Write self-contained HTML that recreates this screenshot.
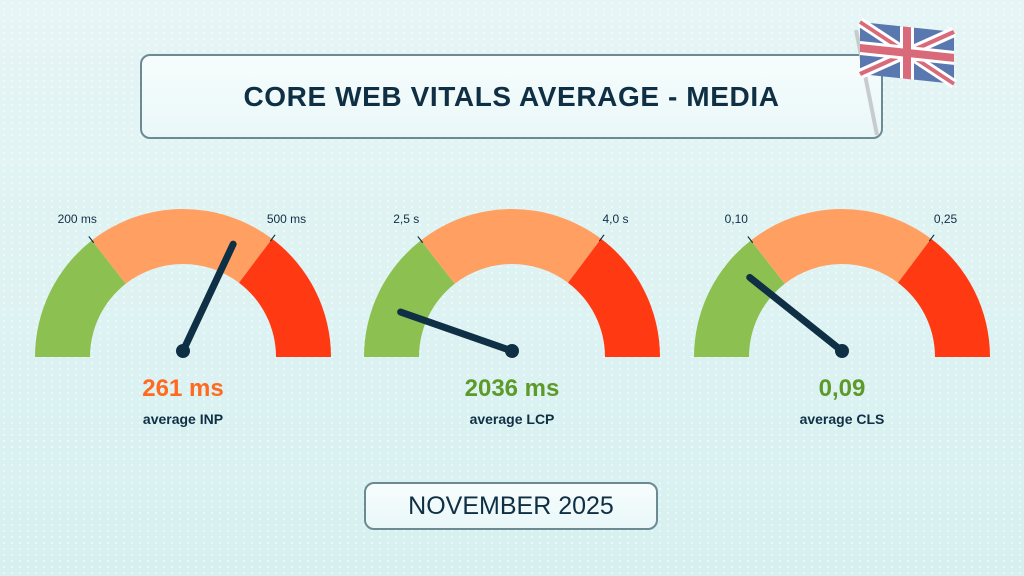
<!DOCTYPE html>
<html><head><meta charset="utf-8"><style>
body{margin:0;width:1024px;height:576px;overflow:hidden;font-family:"Liberation Sans",sans-serif;}
#bg{position:absolute;left:0;top:0;width:1024px;height:576px;background:linear-gradient(180deg,#e6f5f5,#d6f0f0);}
#dots{position:absolute;left:0;top:0;width:1024px;height:576px;background-image:radial-gradient(rgba(255,255,255,0.55) 1px,transparent 1.4px);background-size:8px 6px;}
.box{position:absolute;border:2px solid #6b8a94;border-radius:10px;background:linear-gradient(180deg,#f7fdfd,#e9f7f8);color:#0f2f45;text-align:center;box-sizing:border-box;}
</style></head><body>
<div id="bg"></div>
<div id="dots"></div>
<div class="box" style="left:140px;top:54px;width:743px;height:85px;line-height:81px;font-size:28px;font-weight:bold;letter-spacing:0.6px;">CORE WEB VITALS AVERAGE - MEDIA</div>
<svg style="position:absolute;left:0;top:0" width="1024" height="576" id="chart">
<g>
<line x1="856" y1="30" x2="877" y2="135" stroke="#c8cccc" stroke-width="4"/>
<g transform="translate(860,14) skewY(6)">
<rect x="0" y="8" width="94" height="52" fill="#5a78b0"/>
<path d="M0 8 L94 60 M94 8 L0 60" stroke="#fff" stroke-width="10"/>
<path d="M0 8 L94 60 M94 8 L0 60" stroke="#d86a7a" stroke-width="4"/>
<path d="M47 8 V60 M0 34 H94" stroke="#fff" stroke-width="14"/>
<path d="M47 8 V60 M0 34 H94" stroke="#d86a7a" stroke-width="8"/>
</g></g>
</svg>
<div class="box" style="left:364px;top:482px;width:294px;height:48px;line-height:44px;font-size:25px;">NOVEMBER 2025</div>
<script>
const metrics=["INP","LCP","CLS"];
const values=[261,2036,0.09];
const valueLabels=["261 ms","2036 ms","0,09"];
const thresholdLabels=[["200 ms","500 ms"],["2,5 s","4,0 s"],["0,10","0,25"]];
const scaleMax=[408,19000,0.42];
const valueColors=["#ff6a1f","#5e9a2a","#5e9a2a"];
const centersX=[183,512,842];
const NS="http://www.w3.org/2000/svg";
const svg=document.getElementById('chart');
const cy=357,R=148,r=93;
const segs=[[180,128,"#8cc152"],[128,53,"#ffa062"],[53,0,"#ff3a12"]];
function pt(cx,ang,rad){const a=ang*Math.PI/180;return [cx+rad*Math.cos(a),cy-rad*Math.sin(a)];}
function angleOf(i,v){return 180-180*Math.min(1,Math.max(0,v/scaleMax[i]));}
function mk(tag,attrs){const e=document.createElementNS(NS,tag);for(const k in attrs)e.setAttribute(k,attrs[k]);svg.appendChild(e);return e;}
metrics.forEach((m,i)=>{
 const cx=centersX[i];
 segs.forEach((s,j)=>{
  const a=pt(cx,s[0],R),b=pt(cx,s[1],R),c=pt(cx,s[1],r),d=pt(cx,s[0],r);
  const p=mk('path',{d:`M${a} A${R} ${R} 0 0 1 ${b} L${c} A${r} ${r} 0 0 0 ${d}Z`,fill:s[2]});
  
  
 });
 [128,53].forEach((ang,k)=>{
  const a=pt(cx,ang,R-3),b=pt(cx,ang,R+5);
  const t=mk('line',{x1:a[0],y1:a[1],x2:b[0],y2:b[1],stroke:'#0f2f45','stroke-width':1.2});
  
  
  const lp=pt(cx,ang,R+14);
  const tx=mk('text',{x:lp[0]+(k===0?-6:6),y:223,'text-anchor':'middle','font-size':12,fill:'#0f2f45'});
  tx.textContent=thresholdLabels[i][k];
  
  
 });
 const ang=angleOf(i,values[i]);
 const tip=pt(cx,ang,118);
 const n=mk('line',{x1:cx,y1:cy-6,x2:tip[0],y2:tip[1]-6,stroke:'#0f2f45','stroke-width':7,'stroke-linecap':'round'});
 
 
 const h=mk('circle',{cx:cx,cy:cy-6,r:7,fill:'#0f2f45'});
 
 
 const v=mk('text',{x:cx,y:396,'text-anchor':'middle','font-size':24,'font-weight':'bold',fill:valueColors[i]});
 v.textContent=valueLabels[i];
 
 
 const l=mk('text',{x:cx,y:424,'text-anchor':'middle','font-size':14,'font-weight':'bold',fill:'#0f2f45'});
 l.textContent='average '+m;
 
 
});
</script>
</body></html>
